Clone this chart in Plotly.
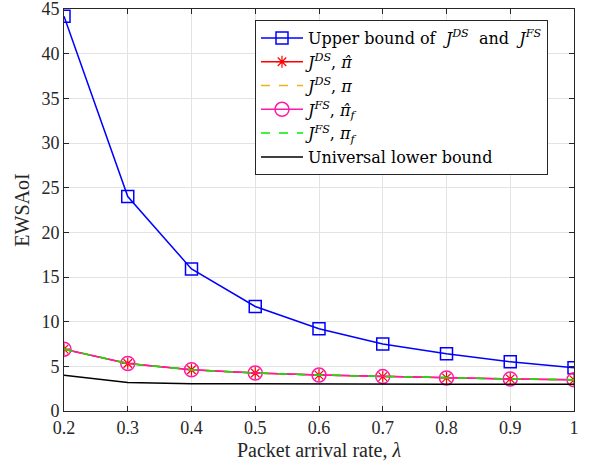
import plotly.graph_objects as go

# Packet arrival rate
lam = [0.2, 0.3, 0.4, 0.5, 0.6, 0.7, 0.8, 0.9, 1.0]

# EWSAoI curves
upper_bound = [44.2, 24.0, 15.9, 11.7, 9.2, 7.5, 6.4, 5.5, 4.85]
j_ds_hat = [6.92, 5.32, 4.62, 4.25, 4.02, 3.85, 3.70, 3.59, 3.49]
j_ds = [6.92, 5.32, 4.62, 4.25, 4.02, 3.85, 3.70, 3.59, 3.49]
j_fs_hat = [6.92, 5.32, 4.62, 4.25, 4.02, 3.85, 3.70, 3.59, 3.49]
j_fs = [6.92, 5.32, 4.62, 4.25, 4.02, 3.85, 3.70, 3.59, 3.49]
lower_bound = [4.0, 3.2, 3.05, 3.02, 3.0, 3.0, 3.0, 3.0, 3.0]

x_ticks = [0.2, 0.3, 0.4, 0.5, 0.6, 0.7, 0.8, 0.9, 1.0]
x_tick_text = ["0.2", "0.3", "0.4", "0.5", "0.6", "0.7", "0.8", "0.9", "1"]
y_ticks = [0, 5, 10, 15, 20, 25, 30, 35, 40, 45]

FONT = "Liberation Serif, Times New Roman, serif"
LEGEND_FONT = "DejaVu Serif, serif"
PI_HAT = "<i>π\u0302</i>"
NBSP = "\u00a0"

fig = go.Figure()

fig.add_trace(go.Scatter(
    x=lam, y=upper_bound, mode="lines+markers",
    name=("Upper bound of" + NBSP + " <i>J</i><sup><i>DS</i></sup>" + NBSP
          + " and" + NBSP + " <i>J</i><sup><i>FS</i></sup>"),
    line=dict(color="#0000ff", width=1.5),
    marker=dict(symbol="square-open", size=12, color="#0000ff", line=dict(width=1.5)),
))
fig.add_trace(go.Scatter(
    x=lam, y=j_ds_hat, mode="lines+markers",
    name="<i>J</i><sup><i>DS</i></sup>, " + PI_HAT,
    line=dict(color="#ff0000", width=1.5),
    marker=dict(symbol="asterisk-open", size=10, color="#ff0000", line=dict(width=1.2, color="#ff0000")),
))
fig.add_trace(go.Scatter(
    x=lam, y=j_ds, mode="lines",
    name="<i>J</i><sup><i>DS</i></sup>, <i>π</i>",
    line=dict(color="#f0b020", width=1.5, dash="dash"),
))
fig.add_trace(go.Scatter(
    x=lam, y=j_fs_hat, mode="lines+markers",
    name="<i>J</i><sup><i>FS</i></sup>, " + PI_HAT + "<sub><i>f</i></sub>",
    line=dict(color="#ff1aa8", width=1.5),
    marker=dict(symbol="circle-open", size=14, color="#ff1aa8", line=dict(width=1.5)),
))
fig.add_trace(go.Scatter(
    x=lam, y=j_fs, mode="lines",
    name="<i>J</i><sup><i>FS</i></sup>, <i>π</i><sub><i>f</i></sub>",
    line=dict(color="#00ee00", width=1.5, dash="dash"),
))
fig.add_trace(go.Scatter(
    x=lam, y=lower_bound, mode="lines",
    name="Universal lower bound",
    line=dict(color="#000000", width=1.5),
))

axis_common = dict(
    showgrid=True, gridcolor="#e3e3e3", gridwidth=1,
    showline=True, linecolor="#262626", linewidth=1, mirror="ticks",
    ticks="inside", ticklen=5, tickcolor="#262626",
    zeroline=False, automargin=False, ticklabeloverflow="allow",
    tickfont=dict(family=FONT, size=18, color="#262626"),
)

fig.update_xaxes(
    range=[0.2, 1.0], tickvals=x_ticks, ticktext=x_tick_text,
    title=dict(text="Packet arrival rate, <i>λ</i>", font=dict(family=FONT, size=20, color="#262626"), standoff=6),
    **axis_common,
)
fig.update_yaxes(
    range=[0, 45], tickvals=y_ticks,
    title=dict(text="EWSAoI", font=dict(family=FONT, size=20, color="#262626"), standoff=6),
    **axis_common,
)

fig.update_layout(
    width=591, height=467,
    margin=dict(l=64, r=17, t=9, b=56),
    paper_bgcolor="white", plot_bgcolor="white",
    font=dict(family=FONT, size=18, color="#000000"),
    showlegend=True,
    legend=dict(
        x=0.3745, y=0.9726, xanchor="left", yanchor="top",
        bgcolor="white", bordercolor="#262626", borderwidth=1,
        font=dict(family=LEGEND_FONT, size=16, color="#000000"),
        tracegroupgap=0, itemwidth=42,
    ),
)

fig.write_html("out.html")
